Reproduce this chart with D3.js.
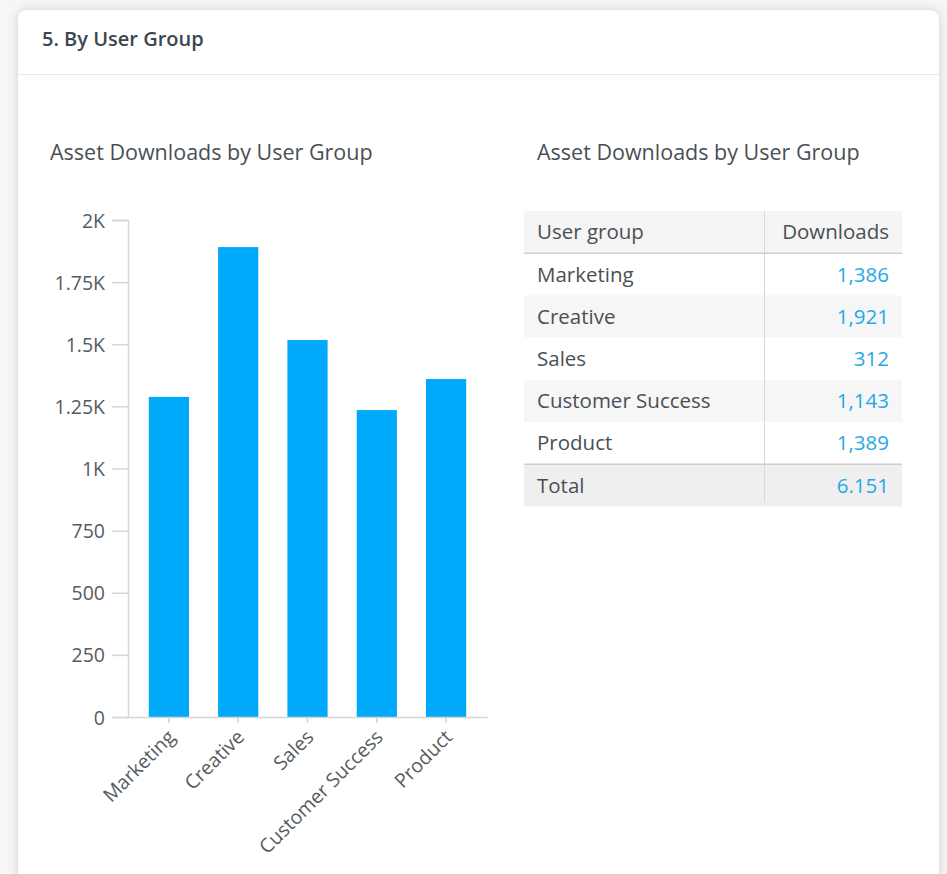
<!DOCTYPE html>
<html>
<head>
<meta charset="utf-8">
<script src="https://cdn.jsdelivr.net/npm/d3@7"></script>
<style>
  body { margin: 0; background: #f6f6f6; font-family: "Open Sans", Lato, sans-serif; }
  svg { display: block; }
</style>
</head>
<body>
<div id="main"></div>
<script>
// bar chart values
var groups = ["Marketing", "Creative", "Sales", "Customer Success", "Product"];
var barValues = [1288, 1891, 1517, 1235, 1360];
var yTicks = [0, 250, 500, 750, 1000, 1250, 1500, 1750, 2000];
var yTickLabels = ["0", "250", "500", "750", "1K", "1.25K", "1.5K", "1.75K", "2K"];

// table values, as printed in the table
var tableGroups = ["Marketing", "Creative", "Sales", "Customer Success", "Product"];
var tableValues = [1386, 1921, 312, 1143, 1389];
var tableHeader = ["User group", "Downloads"];

var W = 947, H = 874;
var fontFamily = "'Open Sans', Lato, sans-serif";
var barColor = "#00a9f9";
var textColor = "#4a4f54";

var svg = d3.select("#main").append("svg")
    .attr("width", W)
    .attr("height", H)
    .attr("font-family", fontFamily);

var defs = svg.append("defs");
var shadow = defs.append("filter").attr("id", "shadow")
    .attr("x", -0.05).attr("y", -0.05).attr("width", 1.1).attr("height", 1.1);
shadow.append("feDropShadow")
    .attr("dx", 0).attr("dy", 0).attr("stdDeviation", 5)
    .attr("flood-color", "#000").attr("flood-opacity", 0.12);

// card
svg.append("rect")
    .attr("x", 17.5).attr("y", 9.5)
    .attr("width", 922).attr("height", 900)
    .attr("rx", 9)
    .attr("fill", "#fff")
    .attr("stroke", "#e2e2e2")
    .attr("filter", "url(#shadow)");

svg.append("line")
    .attr("x1", 18).attr("x2", 939)
    .attr("y1", 74.5).attr("y2", 74.5)
    .attr("stroke", "#e8e8e8");

svg.append("text")
    .attr("x", 42).attr("y", 46)
    .attr("font-size", 20).attr("font-weight", 600)
    .attr("fill", "#394752")
    .text("5. By User Group");

//////////////////////////////////////////////////////////////////////////
// bar chart
svg.append("text")
    .attr("x", 50).attr("y", 160)
    .attr("font-size", 21.5)
    .attr("fill", textColor)
    .text("Asset Downloads by User Group");

var x = d3.scaleBand()
    .domain(groups)
    .range([128, 487])
    .paddingInner(0.42)
    .paddingOuter(0.3);

var y = d3.scaleLinear()
    .domain([0, 2000])
    .range([717, 220]);

var chart = svg.append("g");

chart.selectAll("rect.bar")
    .data(groups)
    .enter()
    .append("rect")
    .attr("class", "bar")
    .attr("x", function(d) { return x(d); })
    .attr("width", x.bandwidth())
    .attr("y", function(d, i) { return y(barValues[i]); })
    .attr("height", function(d, i) { return y(0) - y(barValues[i]); })
    .attr("fill", barColor);

var yAxis = chart.append("g")
    .attr("transform", "translate(128,0)")
    .call(d3.axisLeft(y)
        .tickValues(yTicks)
        .tickFormat(function(d, i) { return yTickLabels[i]; })
        .tickSize(16)
        .tickPadding(7));

var xAxis = chart.append("g")
    .attr("transform", "translate(0,717)")
    .call(d3.axisBottom(x).tickSize(6).tickSizeOuter(0).tickPadding(6));

[yAxis, xAxis].forEach(function(ax) {
  ax.select(".domain").attr("stroke", "#d6d6d6").attr("stroke-width", 1.5);
  ax.selectAll(".tick line").attr("stroke", "#d6d6d6").attr("stroke-width", 1.5);
  ax.selectAll("text")
      .attr("font-family", fontFamily)
      .attr("font-size", 19.5)
      .attr("fill", "#555b60");
});
yAxis.selectAll("text").attr("dy", "0.36em");

xAxis.selectAll("text")
    .attr("text-anchor", "end")
    .attr("dy", "0.35em")
    .attr("transform", "translate(-6,8) rotate(-45)");

//////////////////////////////////////////////////////////////////////////
// table
svg.append("text")
    .attr("x", 537).attr("y", 160)
    .attr("font-size", 21.5)
    .attr("fill", textColor)
    .text("Asset Downloads by User Group");

var tableLeft = 524, tableRight = 902, colDivider = 764;
var rowH = 42.2, headerTop = 211;
var fmt = d3.format(",");
var dotFmt = d3.formatLocale({decimal: ",", thousands: ".", grouping: [3], currency: ["", ""]}).format(",");

var rows = tableGroups.map(function(g, i) {
  return { label: g, value: fmt(tableValues[i]), kind: "body", idx: i };
});
rows.unshift({ label: tableHeader[0], value: tableHeader[1], kind: "head" });
rows.push({ label: "Total", value: dotFmt(d3.sum(tableValues)), kind: "total" });

var rowY = d3.scaleLinear().domain([0, 1]).range([headerTop, headerTop + rowH]);

var rowG = svg.append("g").selectAll("g")
    .data(rows)
    .enter()
    .append("g")
    .attr("transform", function(d, i) { return "translate(0," + rowY(i) + ")"; });

rowG.append("rect")
    .attr("x", tableLeft).attr("width", tableRight - tableLeft)
    .attr("height", rowH)
    .attr("fill", function(d) {
      if (d.kind === "head") return "#f5f5f5";
      if (d.kind === "total") return "#efefef";
      return d.idx % 2 === 1 ? "#f6f6f6" : "#ffffff";
    });

rowG.append("text")
    .attr("x", 537).attr("y", rowH / 2)
    .attr("dy", "0.36em")
    .attr("font-size", 20.5)
    .attr("fill", textColor)
    .text(function(d) { return d.label; });

rowG.append("text")
    .attr("x", 889).attr("y", rowH / 2)
    .attr("dy", "0.36em")
    .attr("text-anchor", "end")
    .attr("font-size", 20.5)
    .attr("fill", function(d) { return d.kind === "head" ? textColor : "#25a9e6"; })
    .text(function(d) { return d.value; });

svg.append("line")
    .attr("x1", colDivider + 0.5).attr("x2", colDivider + 0.5)
    .attr("y1", headerTop).attr("y2", rowY(rows.length) - 4)
    .attr("stroke", "#d8d8d8");

[1, rows.length - 1].forEach(function(i) {
  svg.append("line")
      .attr("x1", tableLeft).attr("x2", tableRight)
      .attr("y1", rowY(i)).attr("y2", rowY(i))
      .attr("stroke", "#cfcfcf").attr("stroke-width", 1.5);
});
</script>
</body>
</html>
